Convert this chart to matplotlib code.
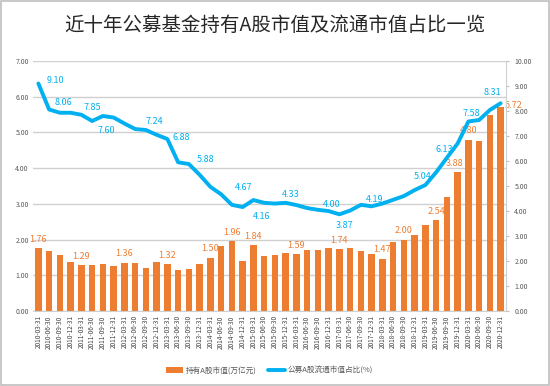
import matplotlib
matplotlib.use("Agg")
import matplotlib.pyplot as plt
from matplotlib.patches import Rectangle

plt.rcParams['font.family'] = ['Noto Sans CJK SC', 'DejaVu Sans']

title = "近十年公募基金持有A股市值及流通市值占比一览"
bar_name = "持有A股市值(万亿元)"
line_name = "公募A股流通市值占比(%)"

dates = [
    "2010-03-31", "2010-06-30", "2010-09-30", "2010-12-31",
    "2011-03-31", "2011-06-30", "2011-09-30", "2011-12-31",
    "2012-03-31", "2012-06-30", "2012-09-30", "2012-12-31",
    "2013-03-31", "2013-06-30", "2013-09-30", "2013-12-31",
    "2014-03-31", "2014-06-30", "2014-09-30", "2014-12-31",
    "2015-03-31", "2015-06-30", "2015-09-30", "2015-12-31",
    "2016-03-31", "2016-06-30", "2016-09-30", "2016-12-31",
    "2017-03-31", "2017-06-30", "2017-09-30", "2017-12-31",
    "2018-03-31", "2018-06-30", "2018-09-30", "2018-12-31",
    "2019-03-31", "2019-06-30", "2019-09-30", "2019-12-31",
    "2020-03-31", "2020-06-30", "2020-09-30", "2020-12-31",
]

holdings = [
    1.76, 1.68, 1.56, 1.38, 1.29, 1.29, 1.33, 1.26, 1.36, 1.34,
    1.22, 1.38, 1.32, 1.15, 1.19, 1.33, 1.50, 1.83, 1.96, 1.40,
    1.84, 1.54, 1.56, 1.63, 1.59, 1.70, 1.72, 1.77, 1.74, 1.77,
    1.68, 1.59, 1.47, 1.93, 2.00, 2.12, 2.42, 2.54, 3.18, 3.88,
    4.80, 4.76, 5.50, 5.72,
]

ratio = [
    9.10, 8.06, 7.93, 7.93, 7.85, 7.60, 7.80, 7.74, 7.50, 7.28,
    7.24, 7.05, 6.88, 5.95, 5.88, 5.45, 4.97, 4.67, 4.25, 4.16,
    4.44, 4.33, 4.30, 4.33, 4.24, 4.12, 4.05, 4.00, 3.87, 4.02,
    4.25, 4.19, 4.30, 4.45, 4.60, 4.84, 5.04, 5.55, 6.13, 6.70,
    7.58, 7.64, 8.04, 8.31,
]

bar_label_idx = [0, 4, 8, 12, 16, 18, 20, 24, 28, 32, 34, 37, 39, 40, 43]
line_label_idx = [0, 1, 4, 5, 10, 12, 14, 17, 19, 23, 27, 28, 31, 36, 38, 40, 43]
# label offsets in points (dx, dy)
line_label_off = {0: (12, 2), 1: (10, 5), 4: (8, 5), 5: (10, -7), 10: (6, 6),
                  12: (10, 1), 14: (12, 3), 17: (16, 5), 19: (14, -7),
                  23: (4, 6), 27: (2, 5), 28: (4, -8), 31: (2, 5),
                  36: (-2, 6), 38: (-2, 6), 40: (2, 6), 43: (-6, 8)}
bar_label_off = {43: (9, -2), 39: (-2, 3)}

ORANGE = "#ED7D31"
BLUE = "#00B0F0"
GREY = "#595959"

fig = plt.figure(figsize=(5.5, 3.86), dpi=100)
fig.patch.set_facecolor("white")
fig.add_artist(Rectangle((0.002, 0.003), 0.996, 0.994, transform=fig.transFigure,
                         fill=False, edgecolor="#BFBFBF", linewidth=1.2))

ax = fig.add_axes([0.06, 0.194, 0.86, 0.648])
x = list(range(len(dates)))
ax.bar(x, holdings, width=0.6, color=ORANGE, zorder=2, label=bar_name)
ax.set_xlim(-0.5, len(dates) - 0.5)
ax.set_ylim(0, 7)
ax.set_yticks(range(0, 8))
ax.set_yticklabels([f"{v:.2f}" for v in range(0, 8)], fontsize=5, color=GREY)
ax.grid(axis="y", color="#D0D0D0", linewidth=1, zorder=0)
ax.set_xticks(x)
ax.set_xticklabels(dates, rotation=90, fontsize=4.6, color="#404040")
ax.tick_params(axis="both", length=0, pad=3)
for s in ["left", "top", "right"]:
    ax.spines[s].set_visible(False)
ax.spines["bottom"].set_color("#D0D0D0")

for i in bar_label_idx:
    dx, dy = bar_label_off.get(i, (0, 3))
    ax.annotate(f"{holdings[i]:.2f}", (x[i], holdings[i]), xytext=(dx, dy),
                textcoords="offset points", ha="center", va="bottom",
                fontsize=6.5, color=ORANGE, zorder=5)

ax2 = ax.twinx()
ax2.plot(x, ratio, color=BLUE, linewidth=2.8, zorder=3, label=line_name,
         solid_joinstyle="round", solid_capstyle="round")
ax2.set_ylim(0, 10)
ax2.set_yticks(range(0, 11))
ax2.set_yticklabels([f"{v:.2f}" for v in range(0, 11)], fontsize=5, color=GREY)
ax2.tick_params(axis="y", length=2, color="#BFBFBF", pad=4)
for s in ["left", "top", "bottom"]:
    ax2.spines[s].set_visible(False)
ax2.spines["right"].set_color("#D0D0D0")

for i in line_label_idx:
    dx, dy = line_label_off.get(i, (0, 5))
    ax2.annotate(f"{ratio[i]:.2f}", (x[i], ratio[i]), xytext=(dx, dy),
                 textcoords="offset points", ha="center", va="center",
                 fontsize=6.5, color=BLUE, zorder=5)

fig.text(0.5, 0.935, title, ha="center", va="center", fontsize=14, color="#262626")

h1, l1 = ax.get_legend_handles_labels()
h2, l2 = ax2.get_legend_handles_labels()
fig.legend(h1 + h2, l1 + l2, loc="center", bbox_to_anchor=(0.49, 0.04), ncol=2,
           frameon=False, fontsize=5.5, labelcolor=GREY, handlelength=2.2,
           columnspacing=1.5, handletextpad=0.4)

fig.savefig("out.png", dpi=100)
